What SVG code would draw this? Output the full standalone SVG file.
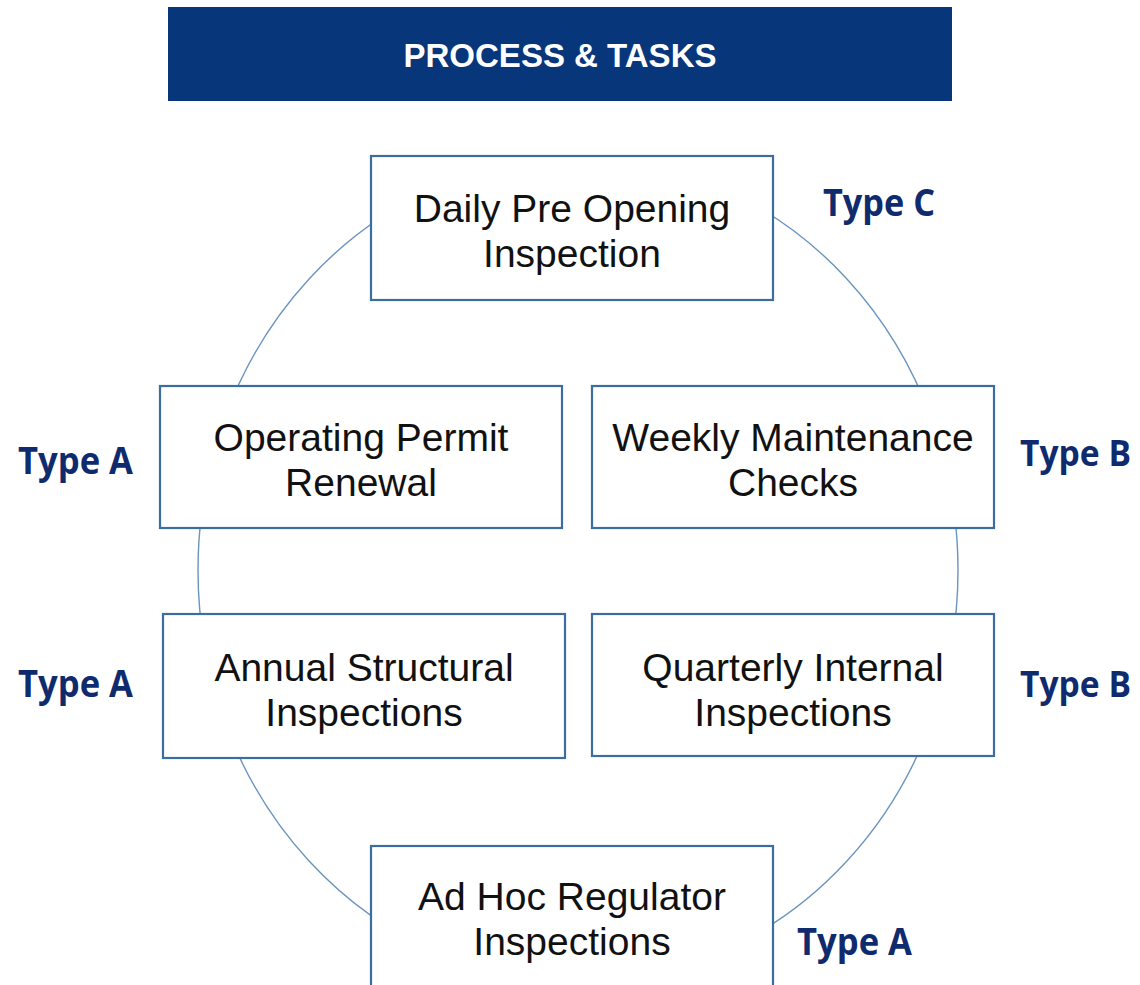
<svg xmlns="http://www.w3.org/2000/svg" width="1140" height="985" viewBox="0 0 1140 985">
<style>
.box{fill:#ffffff;stroke:#3b6e9e;stroke-width:2.2}
.lbl{font-family:"Liberation Sans",Arial,sans-serif;font-size:39px;fill:#111111;text-anchor:middle}
.type{font-family:"Open Sans","Liberation Sans",sans-serif;font-weight:bold;font-size:37px;fill:#0f2b6e}
.typer{font-size:35px}
.ring{fill:none;stroke:#6b94bf;stroke-width:1.4}
</style>
<rect width="1140" height="985" fill="#ffffff"/>
<g id="header">
<rect x="168" y="7" width="784" height="94" fill="#07367a"/>
<text x="560" y="67" font-family="Liberation Sans,Arial,sans-serif" font-weight="bold" font-size="33" fill="#ffffff" text-anchor="middle">PROCESS &amp; TASKS</text>
</g>
<g id="connectors">
<ellipse class="ring" cx="578" cy="570" rx="380" ry="412"/>
</g>
<g id="daily">
<rect class="box" x="371" y="156" width="402" height="144"/>
<text class="lbl" x="572" y="222">Daily Pre Opening</text>
<text class="lbl" x="572" y="267">Inspection</text>
</g>
<g id="permit">
<rect class="box" x="160" y="386" width="402" height="142"/>
<text class="lbl" x="361" y="451">Operating Permit</text>
<text class="lbl" x="361" y="496">Renewal</text>
</g>
<g id="weekly">
<rect class="box" x="592" y="386" width="402" height="142"/>
<text class="lbl" x="793" y="451">Weekly Maintenance</text>
<text class="lbl" x="793" y="496">Checks</text>
</g>
<g id="annual">
<rect class="box" x="163" y="614" width="402" height="144"/>
<text class="lbl" x="364" y="681">Annual Structural</text>
<text class="lbl" x="364" y="726">Inspections</text>
</g>
<g id="quarterly">
<rect class="box" x="592" y="614" width="402" height="142"/>
<text class="lbl" x="793" y="681">Quarterly Internal</text>
<text class="lbl" x="793" y="726">Inspections</text>
</g>
<g id="adhoc">
<rect class="box" x="371" y="846" width="402" height="160"/>
<text class="lbl" x="572" y="910">Ad Hoc Regulator</text>
<text class="lbl" x="572" y="955">Inspections</text>
</g>
<g id="types">
<text class="type" x="823" y="216" textLength="112" lengthAdjust="spacingAndGlyphs">Type C</text>
<text class="type" x="18" y="474" textLength="115" lengthAdjust="spacingAndGlyphs">Type A</text>
<text class="type typer" x="1020" y="466" textLength="111" lengthAdjust="spacingAndGlyphs">Type B</text>
<text class="type" x="18" y="697" textLength="115" lengthAdjust="spacingAndGlyphs">Type A</text>
<text class="type typer" x="1020" y="697" textLength="111" lengthAdjust="spacingAndGlyphs">Type B</text>
<text class="type" x="797" y="955" textLength="115" lengthAdjust="spacingAndGlyphs">Type A</text>
</g>
</svg>
